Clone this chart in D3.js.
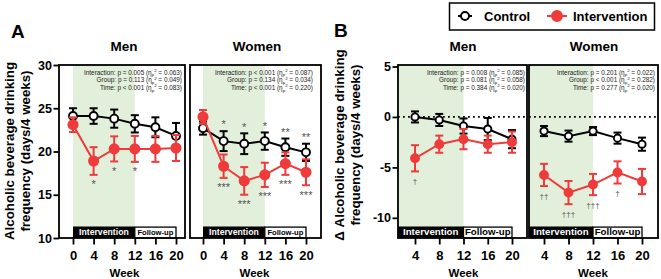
<!DOCTYPE html>
<html><head><meta charset="utf-8">
<script src="https://cdn.jsdelivr.net/npm/d3@7"></script>
<style>html,body{margin:0;padding:0;background:#fff;} svg{display:block;}</style>
</head><body><svg id="c" width="661" height="279"></svg>
<script>
// ---------- DATA ----------
const weeksA = [0, 4, 8, 12, 16, 20];
const weeksB = [4, 8, 12, 16, 20];
const seriesNames = ["Control", "Intervention"];
const statLabels = ["Interaction", "Group", "Time"];
const ticksA = [10, 15, 20, 25, 30];
const ticksB = [-10, -5, 0, 5];

// Panel A – Men
const menA_control = [24.1, 24.1, 23.8, 23.2, 22.8, 21.8];
const menA_controlErr = [0.9, 0.9, 1.05, 1.0, 1.15, 1.5];
const menA_interv = [23.1, 18.9, 20.3, 20.3, 20.3, 20.4];
const menA_intervErr = [0.85, 1.6, 1.45, 1.5, 1.5, 1.5];
const menA_controlMarks = ["", "", "", "", "", ""];
const menA_intervMarks = ["", "*", "*", "*", "", ""];
const menA_stats = [["=", "0.005", "0.063"], ["=", "0.113", "0.049"], ["<", "0.001", "0.083"]];

// Panel A – Women
const womenA_control = [22.7, 21.2, 20.9, 21.2, 20.5, 19.9];
const womenA_controlErr = [0.75, 1.15, 1.2, 1.0, 1.0, 1.0];
const womenA_interv = [24.0, 18.3, 16.6, 17.3, 18.6, 17.6];
const womenA_intervErr = [0.8, 1.35, 1.6, 1.4, 1.3, 1.5];
const womenA_controlMarks = ["", "*", "*", "*", "**", "**"];
const womenA_intervMarks = ["", "***", "***", "***", "***", "***"];
const womenA_stats = [["<", "0.001", "0.087"], ["=", "0.134", "0.034"], ["<", "0.001", "0.220"]];

// Panel B – Men
const menB_control = [0.0, -0.3, -0.9, -1.2, -2.2];
const menB_controlErr = [0.55, 0.6, 0.75, 1.1, 0.9];
const menB_interv = [-4.1, -2.7, -2.2, -2.7, -2.5];
const menB_intervErr = [1.3, 0.85, 1.0, 0.85, 1.05];
const menB_controlMarks = ["", "", "", "", ""];
const menB_intervMarks = ["\u2020", "", "", "", ""];
const menB_stats = [["=", "0.008", "0.085"], ["=", "0.081", "0.058"], ["=", "0.384", "0.020"]];

// Panel B – Women
const womenB_control = [-1.4, -1.9, -1.4, -2.1, -2.7];
const womenB_controlErr = [0.5, 0.55, 0.4, 0.55, 0.65];
const womenB_interv = [-5.75, -7.5, -6.7, -5.5, -6.4];
const womenB_intervErr = [1.1, 1.15, 1.05, 1.1, 1.25];
const womenB_controlMarks = ["", "", "", "", ""];
const womenB_intervMarks = ["\u2020\u2020", "\u2020\u2020\u2020", "\u2020\u2020\u2020", "\u2020", ""];
const womenB_stats = [["=", "0.201", "0.022"], ["<", "0.001", "0.282"], ["=", "0.277", "0.020"]];

// ---------- STYLE / LAYOUT ----------
const FONT = '"Liberation Sans", Arial, Helvetica, sans-serif';
const RED = "#ef3b3b", GREEN = "#e2efda", INK = "#000", MARK = "#555";
const TOP = 65, BOTTOM = 238, BAR_TOP = 226.5;

const svg = d3.select("#c").attr("font-family", FONT);
const yA = d3.scaleLinear().domain([10, 30]).range([BOTTOM, TOP]);
const yB = d3.scaleLinear().domain([-12, 5]).range([BOTTOM, 66.5]);

const panels = [
  { title: "Men", left: 59, right: 185, xr: [73, 176], titleX: 124, y: yA, ticks: ticksA, showY: true, weeks: weeksA,
    ctrl: menA_control, ctrlErr: menA_controlErr, intv: menA_interv, intvErr: menA_intervErr,
    ctrlMarks: menA_controlMarks, intvMarks: menA_intervMarks, stats: menA_stats, statX: 182,
    barFont: [8.7, 7.6], r: [4, 4.6], markType: "star", zero: false },
  { title: "Women", left: 190, right: 321, xr: [203, 306], titleX: 257, y: yA, ticks: ticksA, showY: false, weeks: weeksA,
    ctrl: womenA_control, ctrlErr: womenA_controlErr, intv: womenA_interv, intvErr: womenA_intervErr,
    ctrlMarks: womenA_controlMarks, intvMarks: womenA_intervMarks, stats: womenA_stats, statX: 313,
    barFont: [8.7, 7.6], r: [4, 4.6], markType: "star", zero: false },
  { title: "Men", left: 398, right: 527, xr: [415, 512], titleX: 463, y: yB, ticks: ticksB, showY: true, weeks: weeksB,
    ctrl: menB_control, ctrlErr: menB_controlErr, intv: menB_interv, intvErr: menB_intervErr,
    ctrlMarks: menB_controlMarks, intvMarks: menB_intervMarks, stats: menB_stats, statX: 525,
    barFont: [9.7, 9.7], r: [3.6, 4], markType: "dagger", zero: true },
  { title: "Women", left: 529, right: 658, xr: [544, 642], titleX: 594, y: yB, ticks: ticksB, showY: false, weeks: weeksB,
    ctrl: womenB_control, ctrlErr: womenB_controlErr, intv: womenB_interv, intvErr: womenB_intervErr,
    ctrlMarks: womenB_controlMarks, intvMarks: womenB_intervMarks, stats: womenB_stats, statX: 655,
    barFont: [9.7, 9.7], r: [3.6, 4], markType: "dagger", zero: true }
];

function drawPanel(p) {
  const g = svg.append("g");
  const x = d3.scaleLinear().domain([p.weeks[0], 20]).range(p.xr);
  const y = p.y;
  const gx0 = Math.max(p.left, x(0)), gx12 = x(12), gx20 = x(20);

  // shaded intervention period
  g.append("rect").attr("x", gx0).attr("y", TOP).attr("width", gx12 - gx0)
    .attr("height", BOTTOM - TOP).attr("fill", GREEN);

  if (p.zero) {
    g.append("line").attr("x1", p.left).attr("x2", p.right).attr("y1", y(0)).attr("y2", y(0))
      .attr("stroke", INK).attr("stroke-width", 1.8).attr("stroke-dasharray", "1.8,3.2");
  }

  // intervention / follow-up bar
  g.append("rect").attr("x", gx0).attr("y", BAR_TOP).attr("width", gx12 - gx0)
    .attr("height", BOTTOM - BAR_TOP).attr("fill", INK);
  g.append("rect").attr("x", gx12).attr("y", BAR_TOP + 0.6).attr("width", gx20 - gx12)
    .attr("height", BOTTOM - BAR_TOP - 0.6).attr("fill", "#fff").attr("stroke", INK).attr("stroke-width", 1.3);
  g.append("text").attr("x", (gx0 + gx12) / 2).attr("y", BOTTOM - 3).attr("text-anchor", "middle")
    .attr("font-size", p.barFont[0]).attr("font-weight", "bold").attr("fill", "#fff").text("Intervention");
  g.append("text").attr("x", (gx12 + gx20) / 2).attr("y", BOTTOM - 3).attr("text-anchor", "middle")
    .attr("font-size", p.barFont[1]).attr("font-weight", "bold").attr("fill", INK).text("Follow-up");

  // frame
  g.append("rect").attr("x", p.left).attr("y", TOP).attr("width", p.right - p.left)
    .attr("height", BOTTOM - TOP).attr("fill", "none").attr("stroke", INK).attr("stroke-width", 1.8);

  // x axis
  const xa = g.append("g").attr("transform", `translate(0,${BOTTOM})`)
    .call(d3.axisBottom(x).tickValues(p.weeks).tickSize(6.5).tickPadding(6).tickFormat(d => String(d)));
  xa.select(".domain").remove();
  xa.attr("font-family", FONT).attr("font-size", 13).attr("font-weight", "bold");
  xa.selectAll("line").attr("stroke", INK).attr("stroke-width", 1.8);
  xa.selectAll("text").attr("fill", INK);

  // y axis
  if (p.showY) {
    const ya = g.append("g").attr("transform", `translate(${p.left},0)`)
      .call(d3.axisLeft(y).tickValues(p.ticks).tickSize(5.5).tickPadding(1.5).tickFormat(d => String(d)));
    ya.select(".domain").remove();
    ya.attr("font-family", FONT).attr("font-size", 12.5).attr("font-weight", "bold");
    ya.selectAll("line").attr("stroke", INK).attr("stroke-width", 1.8);
    ya.selectAll("text").attr("fill", INK);
  }

  // titles
  g.append("text").attr("x", p.titleX).attr("y", 51).attr("text-anchor", "middle")
    .attr("font-size", 13.5).attr("font-weight", "bold").text(p.title);
  g.append("text").attr("x", (x(p.weeks[0]) + x(20)) / 2).attr("y", 277).attr("text-anchor", "middle")
    .attr("font-size", 11.5).attr("font-weight", "bold").text("Week");

  // statistics
  p.stats.forEach((s, i) => {
    const t = g.append("text").attr("x", p.statX).attr("y", 74.5 + i * 7.7)
      .attr("text-anchor", "end").attr("font-size", 6.4).attr("fill", "#222");
    t.append("tspan").text(`${statLabels[i]}: p ${s[0]} ${s[1]} (\u03B7`);
    t.append("tspan").attr("font-size", 4.4).attr("dy", 1.6).text("p");
    t.append("tspan").attr("font-size", 4.4).attr("dy", -4.2).text("2");
    t.append("tspan").attr("dy", 2.6).text(` = ${s[2]})`);
  });

  // series
  function series(vals, errs, color, filled, r) {
    const sg = g.append("g");
    sg.append("path").datum(vals)
      .attr("d", d3.line().x((d, i) => x(p.weeks[i])).y(d => y(d)))
      .attr("fill", "none").attr("stroke", color).attr("stroke-width", 2);
    vals.forEach((v, i) => {
      const cx = x(p.weeks[i]);
      const y1 = y(v + errs[i]), y2 = y(v - errs[i]);
      sg.append("line").attr("x1", cx).attr("x2", cx).attr("y1", y1).attr("y2", y2)
        .attr("stroke", color).attr("stroke-width", 2);
      [y1, y2].forEach(yy => sg.append("line").attr("x1", cx - 4).attr("x2", cx + 4)
        .attr("y1", yy).attr("y2", yy).attr("stroke", color).attr("stroke-width", 2));
    });
    sg.selectAll("circle").data(vals).join("circle")
      .attr("cx", (d, i) => x(p.weeks[i])).attr("cy", d => y(d)).attr("r", r)
      .attr("fill", filled ? color : "#fff").attr("stroke", color).attr("stroke-width", 1.9);
  }
  series(p.ctrl, p.ctrlErr, INK, false, p.r[0]);
  series(p.intv, p.intvErr, RED, true, p.r[1]);

  // significance marks
  const fs = p.markType === "star" ? 11 : 8;
  p.ctrlMarks.forEach((m, i) => {
    if (!m) return;
    g.append("text").attr("x", x(p.weeks[i])).attr("y", y(p.ctrl[i] + p.ctrlErr[i]) - 2.7)
      .attr("text-anchor", "middle").attr("font-size", fs).attr("fill", MARK).text(m);
  });
  p.intvMarks.forEach((m, i) => {
    if (!m) return;
    const off = p.markType === "star" ? 13.5 : 12.6;
    g.append("text").attr("x", x(p.weeks[i])).attr("y", y(p.intv[i] - p.intvErr[i]) + off)
      .attr("text-anchor", "middle").attr("font-size", fs).attr("fill", MARK).text(m);
  });
}
panels.forEach(drawPanel);

// panel letters
svg.append("text").attr("x", 11).attr("y", 38).attr("font-size", 19).attr("font-weight", "bold").text("A");
svg.append("text").attr("x", 334).attr("y", 37).attr("font-size", 19).attr("font-weight", "bold").text("B");

// y labels
function ylabel(cx, cy, lines) {
  const t = svg.append("text").attr("transform", `translate(${cx},${cy}) rotate(-90)`)
    .attr("text-anchor", "middle").attr("font-size", 13.3).attr("font-weight", "bold");
  lines.forEach((l, i) => t.append("tspan").attr("x", 0).attr("y", i * 16).text(l));
}
ylabel(14, 151, ["Alcoholic beverage drinking", "frequency (days/4 weeks)"]);
ylabel(344, 145, ["\u0394 Alcoholic beverage drinking", "frequency (days/4 weeks)"]);

// legend
const lg = svg.append("g");
lg.append("rect").attr("x", 449.5).attr("y", 3).attr("width", 205).attr("height", 27)
  .attr("fill", "#fff").attr("stroke", INK).attr("stroke-width", 1.5);
const legendItems = [
  { name: seriesNames[0], color: INK, filled: false, x0: 458, x1: 472, r: 4, tx: 484 },
  { name: seriesNames[1], color: RED, filled: true, x0: 547, x1: 567, r: 5, tx: 573 }
];
legendItems.forEach(it => {
  lg.append("line").attr("x1", it.x0).attr("x2", it.x1).attr("y1", 16).attr("y2", 16)
    .attr("stroke", it.color).attr("stroke-width", 2);
  lg.append("circle").attr("cx", (it.x0 + it.x1) / 2).attr("cy", 16).attr("r", it.r)
    .attr("fill", it.filled ? it.color : "#fff").attr("stroke", it.color).attr("stroke-width", 1.9);
  lg.append("text").attr("x", it.tx).attr("y", 21).attr("font-size", 13).attr("font-weight", "bold").text(it.name);
});
</script>
</body></html>
